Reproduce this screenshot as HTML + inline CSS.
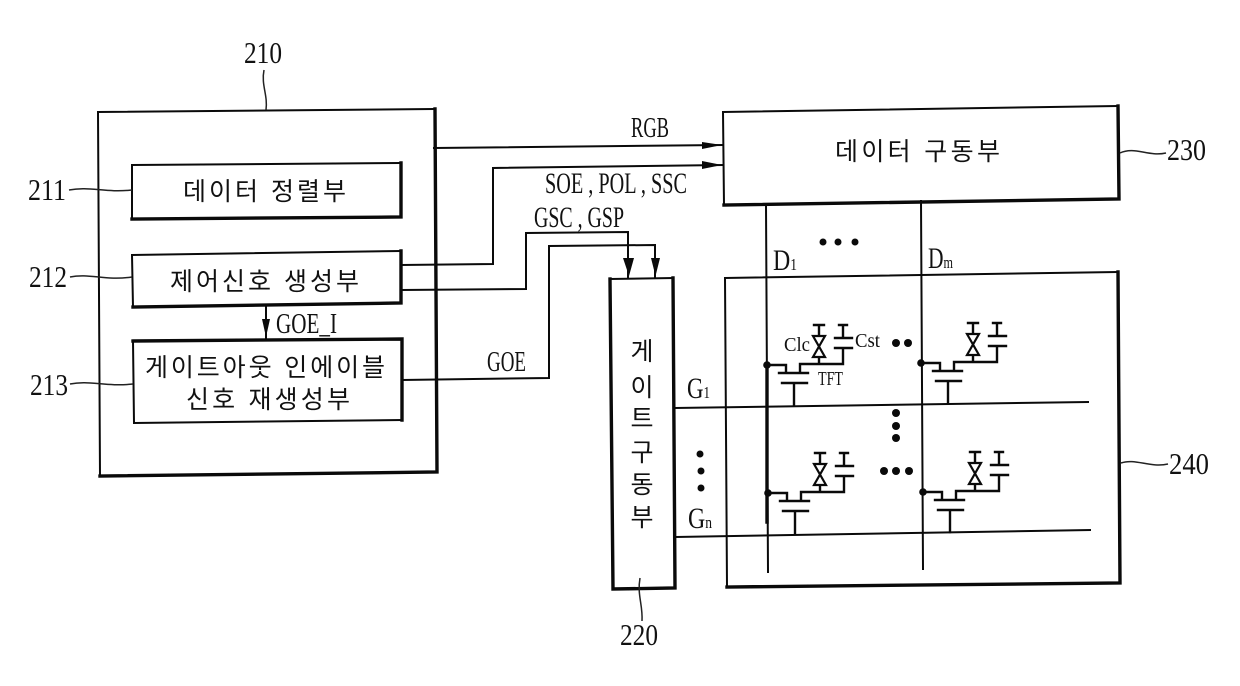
<!DOCTYPE html>
<html lang="ko">
<head>
<meta charset="utf-8">
<title>Diagram</title>
<style>
html,body{margin:0;padding:0;background:#fff;width:1240px;height:686px;overflow:hidden}
svg{display:block}
.l{fill:none;stroke:#0a0a0a;stroke-width:2;stroke-linecap:square}
.t{fill:none;stroke:#0a0a0a;stroke-width:3.4;stroke-linecap:square}
.s{fill:none;stroke:#0a0a0a;stroke-width:2.4;stroke-linecap:square}
.n{fill:none;stroke:#222;stroke-width:1.5}
.e{font-family:"Liberation Serif",serif;fill:#111;font-size:31px}
.c{font-family:"Liberation Sans","Noto Sans CJK KR",sans-serif;fill:#111;font-size:25px;font-weight:400}
.d{fill:#0a0a0a}
</style>
</head>
<body>
<svg width="1240" height="686" viewBox="0 0 1240 686" xmlns="http://www.w3.org/2000/svg">
<defs>
<g id="px">
<path class="s" d="M767 365H786V373M779 373H808M782 383H807M794 383V405M800 373V364H843V348M835 348H852M835 338H852M843 338V325M839 325H847M819 364V357M819 336V325M814 325H824"/>
<path d="M813 336H825L813 357H825Z" fill="#fff" stroke="#0a0a0a" stroke-width="2.2"/>
<circle class="d" cx="767" cy="365" r="3.8"/>
</g>
</defs>

<!-- 210 -->
<path class="l" d="M98 112L434 109M98 112L100 476"/>
<path class="t" d="M435 109L437 472L100 476"/>

<!-- 211 -->
<path class="l" d="M132 165L401 163M132 165V219"/>
<path class="t" d="M401 163V217L132 219"/>
<!-- 212 -->
<path class="l" d="M132 255L401 251M132 255L133 307"/>
<path class="t" d="M401 251V303L133 307"/>
<!-- 213 -->
<path class="t" d="M133 341L402 339V420"/>
<path class="l" d="M133 341L134 423L402 420"/>

<!-- 230 -->
<path class="l" d="M723 112L1118 106M723 112L724 205"/>
<path class="t" d="M1118 106L1119 199L724 205"/>

<!-- 220 -->
<path class="l" d="M610 279L673 278"/>
<path class="t" d="M610 279L613 589L675 588L673 278"/>

<!-- 240 -->
<path class="l" d="M725 278L1118 272M725 278L727 587"/>
<path class="t" d="M1118 272L1120 583L727 587"/>

<!-- connectors -->
<path class="l" d="M434 148L723 145"/>
<path class="l" d="M401 265L493 264V168L723 165"/>
<path class="l" d="M401 290L526 289V233L628 232V278"/>
<path class="l" d="M402 380L549 378V246L655 245V278"/>
<path class="l" d="M266 307V339"/>
<path class="d" d="M702 142L722 145L702 149Z"/>
<path class="d" d="M702 161L722 165L702 169Z"/>
<path class="d" d="M623 258H634L629 276Z"/>
<path class="d" d="M651 258H660L655.500 276Z"/>
<path class="d" d="M262 319H270L266 337Z"/>

<!-- data and gate lines -->
<path class="l" d="M766 205L768 572"/>
<path class="l" d="M921 201L923 569"/>
<path class="t" d="M767 366V522"/>
<path class="l" d="M675 408L1088 402"/>
<path class="l" d="M676 537L1090 530"/>

<!-- pixels -->
<use href="#px"/>
<use href="#px" transform="translate(154,-2)"/>
<use href="#px" transform="translate(1,128)"/>
<use href="#px" transform="translate(156,127)"/>

<!-- dots -->
<g class="d">
<circle cx="823" cy="242" r="3.5"/><circle cx="838" cy="242" r="3.5"/><circle cx="855" cy="242" r="3.5"/>
<circle cx="896" cy="343" r="4"/><circle cx="908" cy="343" r="4"/>
<circle cx="896" cy="413" r="4"/><circle cx="896" cy="426" r="4"/><circle cx="896" cy="438" r="4"/>
<circle cx="884" cy="471" r="4"/><circle cx="896" cy="471" r="4"/><circle cx="909" cy="471" r="4"/>
<circle cx="700" cy="454" r="3.5"/><circle cx="701" cy="471" r="3.5"/><circle cx="701" cy="488" r="3.5"/>
</g>

<!-- leaders -->
<path class="n" d="M264 70C261 85 268 95 266 110"/>
<path class="n" d="M69 190C90 186 105 193 132 190"/>
<path class="n" d="M70 277C90 273 105 281 132 277"/>
<path class="n" d="M70 384C90 380 105 387 133 384"/>
<path class="n" d="M1120 153C1135 146 1148 157 1166 153"/>
<path class="n" d="M1121 463C1135 458 1150 468 1168 464"/>
<path class="n" d="M640 578C637 595 643 605 642 621"/>

<!-- reference numbers -->
<text class="e" x="244" y="63" textLength="38" lengthAdjust="spacingAndGlyphs">210</text>
<text class="e" x="28" y="200" textLength="38" lengthAdjust="spacingAndGlyphs">211</text>
<text class="e" x="29" y="287" textLength="38" lengthAdjust="spacingAndGlyphs">212</text>
<text class="e" x="30" y="395" textLength="38" lengthAdjust="spacingAndGlyphs">213</text>
<text class="e" x="1167" y="160" textLength="39" lengthAdjust="spacingAndGlyphs">230</text>
<text class="e" x="1169" y="474" textLength="40" lengthAdjust="spacingAndGlyphs">240</text>
<text class="e" x="620" y="645" textLength="38" lengthAdjust="spacingAndGlyphs">220</text>

<!-- signal labels -->
<text class="e" x="631" y="137" textLength="38" lengthAdjust="spacingAndGlyphs" style="font-size:29px">RGB</text>
<text class="e" x="545" y="193" textLength="142" lengthAdjust="spacingAndGlyphs" style="font-size:30px">SOE , POL , SSC</text>
<text class="e" x="534" y="227" textLength="90" lengthAdjust="spacingAndGlyphs" style="font-size:30px">GSC , GSP</text>
<text class="e" x="487" y="371" textLength="39" lengthAdjust="spacingAndGlyphs" style="font-size:29px">GOE</text>
<text class="e" x="276" y="333" textLength="61" lengthAdjust="spacingAndGlyphs" style="font-size:29px">GOE_I</text>
<text class="e" x="687" y="398" textLength="23" lengthAdjust="spacingAndGlyphs" style="font-size:30px">G<tspan font-size="17">1</tspan></text>
<text class="e" x="688" y="528" textLength="24" lengthAdjust="spacingAndGlyphs" style="font-size:30px">G<tspan font-size="17">n</tspan></text>
<text class="e" x="773" y="270" textLength="24" lengthAdjust="spacingAndGlyphs" style="font-size:30px">D<tspan font-size="17">1</tspan></text>
<text class="e" x="928" y="268" textLength="25" lengthAdjust="spacingAndGlyphs" style="font-size:30px">D<tspan font-size="17">m</tspan></text>
<text class="e" x="784" y="351" textLength="26" lengthAdjust="spacingAndGlyphs" style="font-size:20px">Clc</text>
<text class="e" x="855" y="347" textLength="25" lengthAdjust="spacingAndGlyphs" style="font-size:20px">Cst</text>
<text class="e" x="818" y="385" textLength="25" lengthAdjust="spacingAndGlyphs" style="font-size:20px">TFT</text>

<!-- Korean labels -->
<text class="c" x="183" y="200" textLength="163">데이터 정렬부</text>
<text class="c" x="170" y="290" textLength="189">제어신호 생성부</text>
<text class="c" x="145" y="376" textLength="240">게이트아웃 인에이블</text>
<text class="c" x="186" y="408" textLength="164">신호 재생성부</text>
<text class="c" x="835" y="160" textLength="165">데이터 구동부</text>
<text class="c" x="642" y="360" text-anchor="middle">게</text>
<text class="c" x="642" y="396" text-anchor="middle">이</text>
<text class="c" x="642" y="427" text-anchor="middle">트</text>
<text class="c" x="642" y="461" text-anchor="middle">구</text>
<text class="c" x="642" y="493" text-anchor="middle">동</text>
<text class="c" x="642" y="526" text-anchor="middle">부</text>
</svg>
</body>
</html>
